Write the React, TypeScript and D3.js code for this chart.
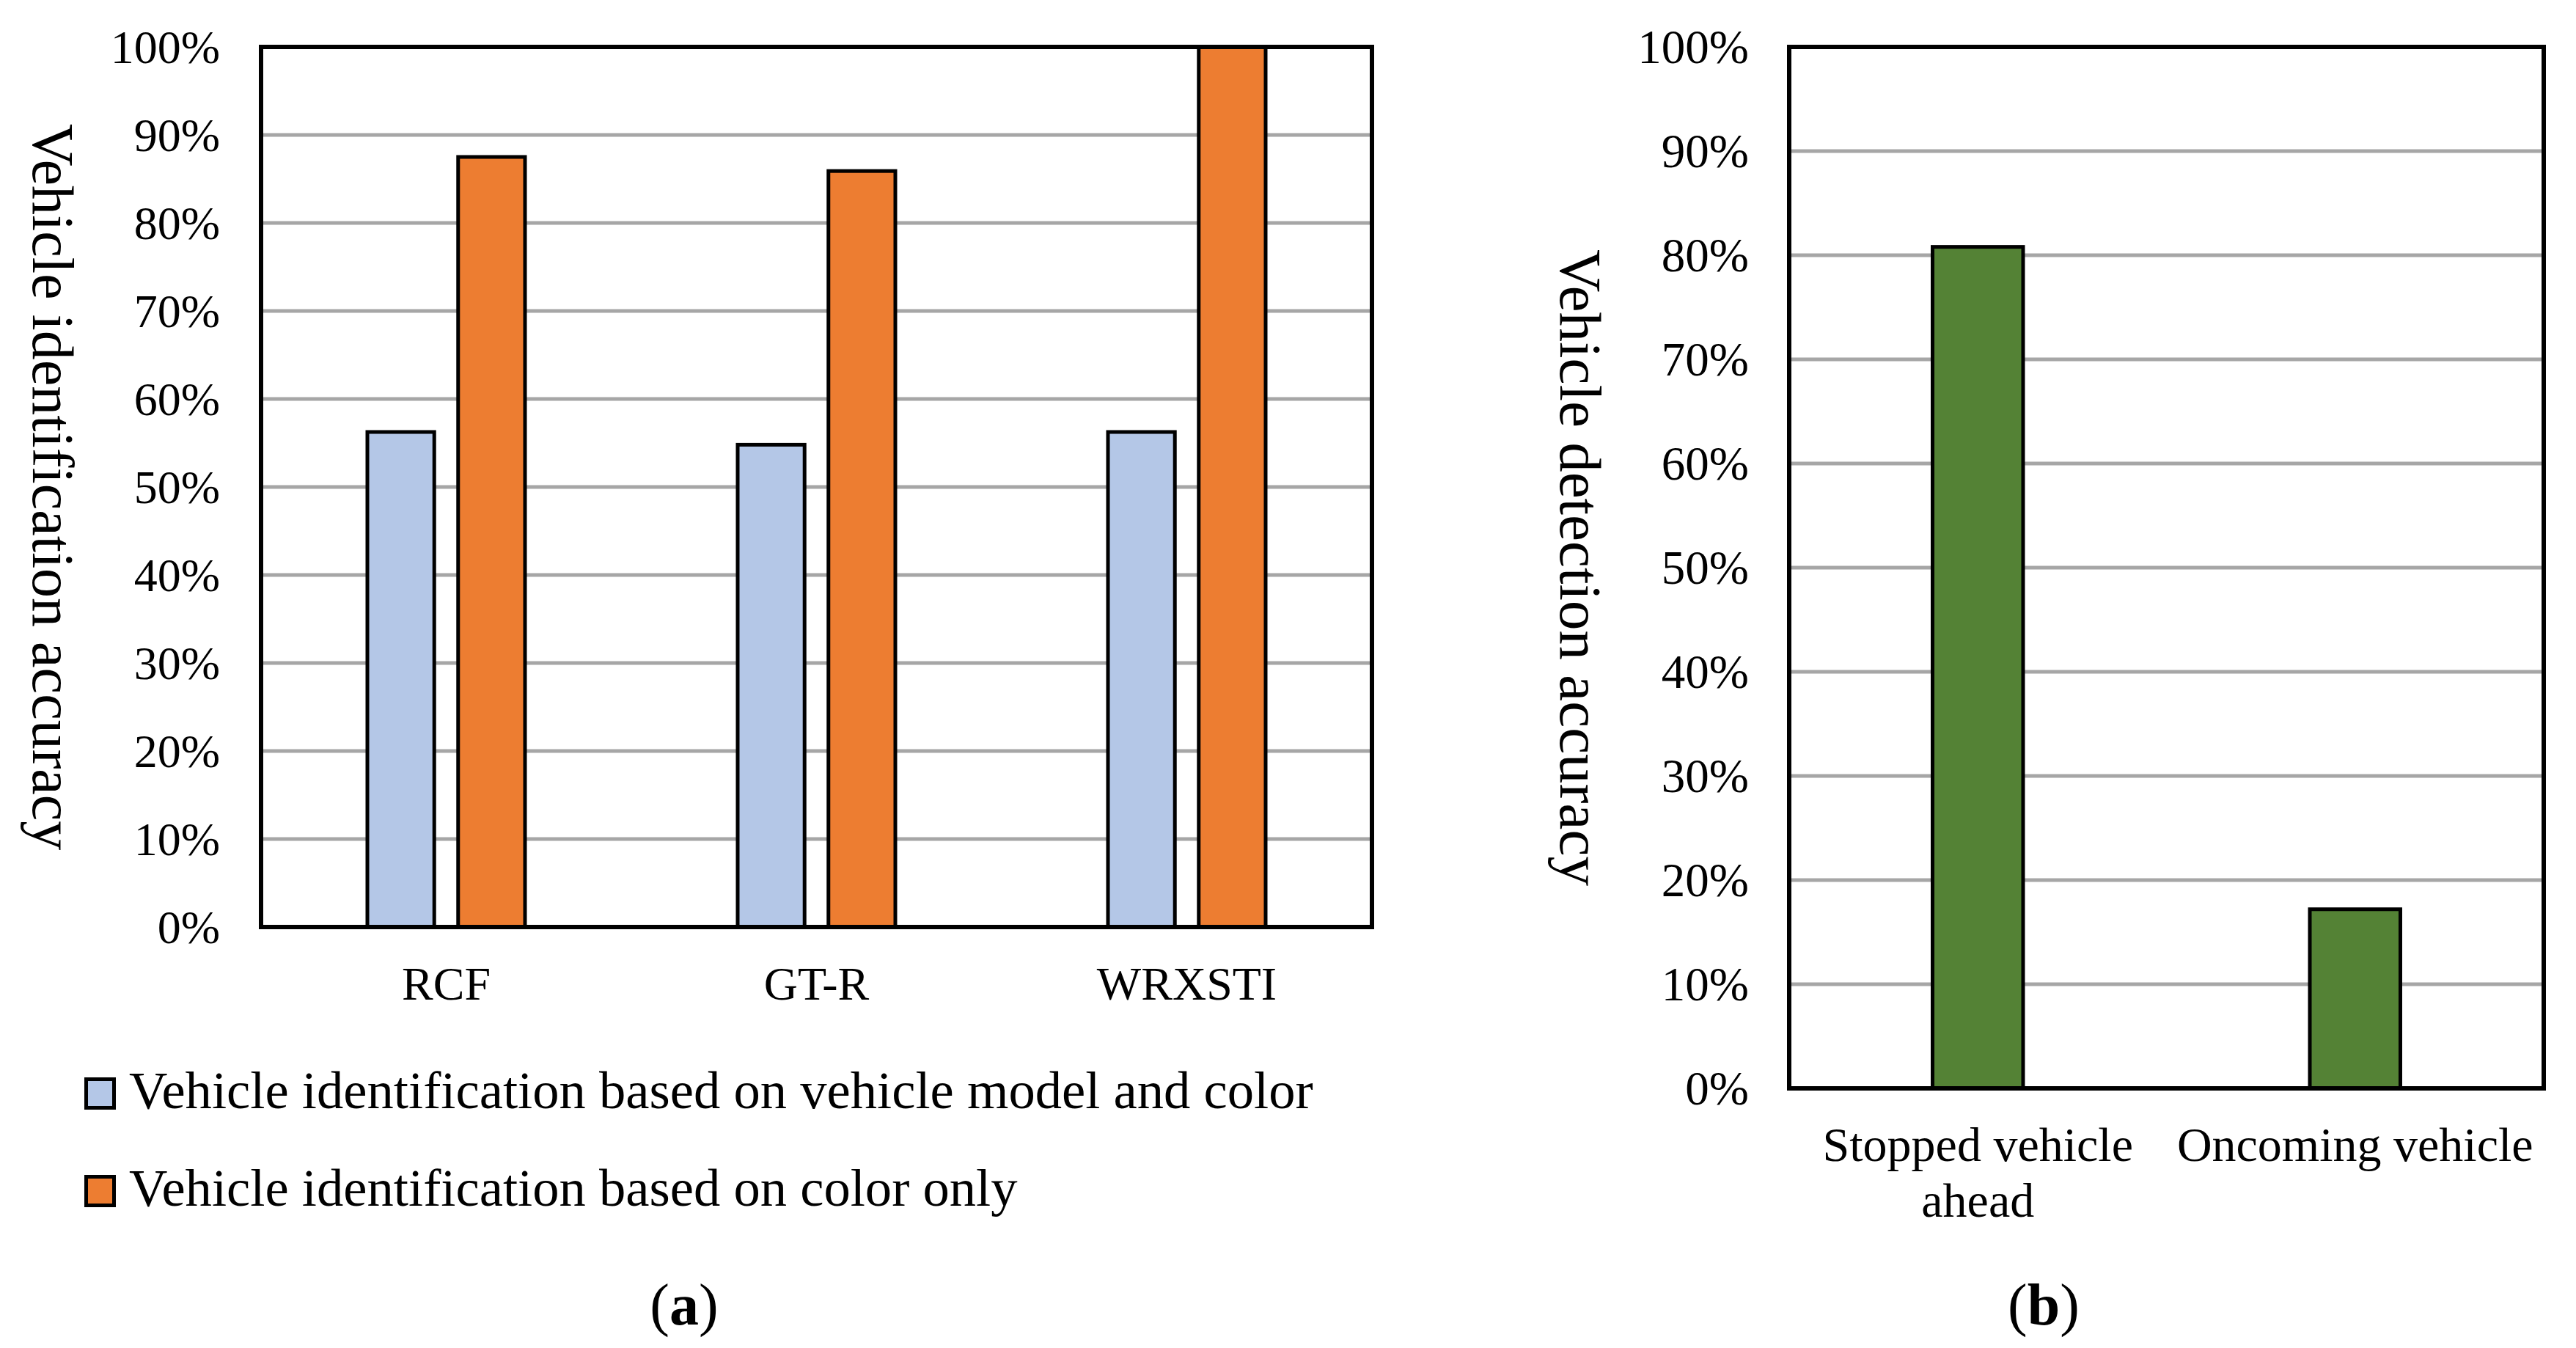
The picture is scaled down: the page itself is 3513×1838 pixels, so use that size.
import React from "react";
import * as d3 from "d3";

const W = 3513;
const H = 1838;

// ---- Data ----
const carModels = ["RCF", "GT-R", "WRXSTI"];
const seriesNames = [
  "Vehicle identification based on vehicle model and color",
  "Vehicle identification based on color only",
];
const modelAndColor = [0.5625, 0.548, 0.5625];
const colorOnly = [0.875, 0.859, 1.0];
const seriesColors = ["#b4c7e7", "#ed7d31"];

const scenarios = [["Stopped vehicle", "ahead"], ["Oncoming vehicle"]];
const detectionAccuracy = [0.808, 0.172];
const detectionColor = "#548235";

const yTicks = [0, 0.1, 0.2, 0.3, 0.4, 0.5, 0.6, 0.7, 0.8, 0.9, 1.0];

const FONT = "'Liberation Serif', 'Times New Roman', serif";
const fmt = d3.format(".0%");

function Frame({ x0, x1, y }: { x0: number; x1: number; y: d3.ScaleLinear<number, number> }) {
  return (
    <rect
      x={x0}
      y={y(1)}
      width={x1 - x0}
      height={y(0) - y(1)}
      fill="none"
      stroke="#000"
      strokeWidth={6}
    />
  );
}

function Grid({ x0, x1, y }: { x0: number; x1: number; y: d3.ScaleLinear<number, number> }) {
  return (
    <g>
      {yTicks
        .filter((t) => t > 0 && t < 1)
        .map((t) => (
          <line key={t} x1={x0} x2={x1} y1={y(t)} y2={y(t)} stroke="#a6a6a6" strokeWidth={5} />
        ))}
    </g>
  );
}

function YLabels({ xRight, y, size }: { xRight: number; y: d3.ScaleLinear<number, number>; size: number }) {
  return (
    <g>
      {yTicks.map((t) => (
        <text
          key={t}
          x={xRight}
          y={y(t)}
          dy="0.34em"
          textAnchor="end"
          fontFamily={FONT}
          fontSize={size}
          fill="#000"
        >
          {fmt(t)}
        </text>
      ))}
    </g>
  );
}

function ChartA() {
  const left = 356;
  const right = 1871;
  const y = d3.scaleLinear().domain([0, 1]).range([1264, 64]);
  const x0 = d3.scaleBand<string>().domain(carModels).range([left, right]).padding(0);
  const bw = x0.bandwidth();
  const x1 = d3
    .scaleBand<number>()
    .domain([0, 1])
    .range([bw / 2 - 107.5, bw / 2 + 107.5])
    .paddingInner(0.263)
    .paddingOuter(0);
  const series = [modelAndColor, colorOnly];
  const midY = (y(0) + y(1)) / 2;

  return (
    <g>
      <Grid x0={left} x1={right} y={y} />
      {series.map((vals, si) =>
        carModels.map((c, ci) => (
          <rect
            key={`${si}-${c}`}
            x={(x0(c) as number) + (x1(si) as number)}
            y={y(vals[ci])}
            width={x1.bandwidth()}
            height={y(0) - y(vals[ci])}
            fill={seriesColors[si]}
            stroke="#000"
            strokeWidth={5}
          />
        ))
      )}
      <Frame x0={left} x1={right} y={y} />
      <YLabels xRight={300} y={y} size={64} />
      {carModels.map((c) => (
        <text
          key={c}
          x={(x0(c) as number) + bw / 2}
          y={1363}
          textAnchor="middle"
          fontFamily={FONT}
          fontSize={64}
        >
          {c}
        </text>
      ))}
      <text
        transform={`translate(45, ${midY}) rotate(90)`}
        textAnchor="middle"
        fontFamily={FONT}
        fontSize={80}
      >
        Vehicle identification accuracy
      </text>
      {seriesNames.map((name, i) => {
        const top = 1469 + i * 133;
        return (
          <g key={name}>
            <rect
              x={117.5}
              y={top + 2.5}
              width={38}
              height={39}
              fill={seriesColors[i]}
              stroke="#000"
              strokeWidth={5}
            />
            <text x={176} y={top + 42} fontFamily={FONT} fontSize={72.6}>
              {name}
            </text>
          </g>
        );
      })}
      <text x={933} y={1806} textAnchor="middle" fontFamily={FONT} fontSize={80}>
        (<tspan fontWeight="bold">a</tspan>)
      </text>
    </g>
  );
}

function ChartB() {
  const left = 2440;
  const right = 3469;
  const y = d3.scaleLinear().domain([0, 1]).range([1484, 64]);
  const keys = scenarios.map((s) => s.join(" "));
  const x = d3.scaleBand<string>().domain(keys).range([left, right]).padding(0);
  const bw = x.bandwidth();
  const barW = bw * 0.24;
  const midY = (y(0) + y(1)) / 2;

  return (
    <g>
      <Grid x0={left} x1={right} y={y} />
      {keys.map((k, i) => (
        <rect
          key={k}
          x={(x(k) as number) + bw / 2 - barW / 2}
          y={y(detectionAccuracy[i])}
          width={barW}
          height={y(0) - y(detectionAccuracy[i])}
          fill={detectionColor}
          stroke="#000"
          strokeWidth={5}
        />
      ))}
      <Frame x0={left} x1={right} y={y} />
      <YLabels xRight={2385} y={y} size={65} />
      {scenarios.map((lines, i) => (
        <text
          key={keys[i]}
          x={(x(keys[i]) as number) + bw / 2}
          y={1583}
          textAnchor="middle"
          fontFamily={FONT}
          fontSize={66}
        >
          {lines.map((ln, li) => (
            <tspan key={li} x={(x(keys[i]) as number) + bw / 2} dy={li === 0 ? 0 : 76}>
              {ln}
            </tspan>
          ))}
        </text>
      ))}
      <text
        transform={`translate(2128, ${midY}) rotate(90)`}
        textAnchor="middle"
        fontFamily={FONT}
        fontSize={81}
      >
        Vehicle detection accuracy
      </text>
      <text x={2787} y={1806} textAnchor="middle" fontFamily={FONT} fontSize={80}>
        (<tspan fontWeight="bold">b</tspan>)
      </text>
    </g>
  );
}

export default function App() {
  return (
    <svg
      width={W}
      height={H}
      viewBox={`0 0 ${W} ${H}`}
      style={{ position: "absolute", left: 0, top: 0, background: "#fff" }}
    >
      <rect x={0} y={0} width={W} height={H} fill="#fff" />
      <ChartA />
      <ChartB />
    </svg>
  );
}
